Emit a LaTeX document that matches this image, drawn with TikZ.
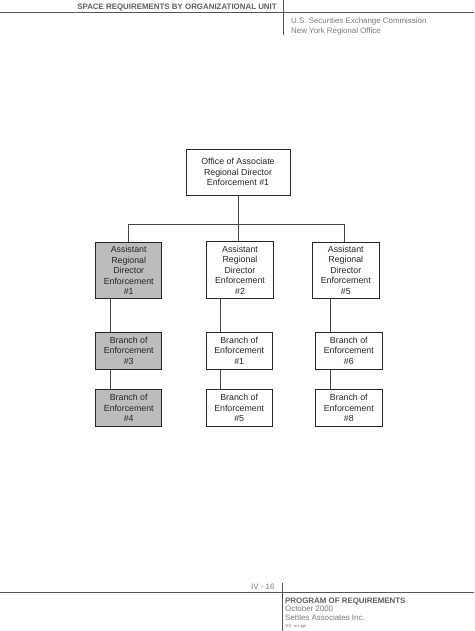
\documentclass[tikz,border=0pt]{standalone}
\usepackage{fontspec}
\setmainfont{Liberation Sans}
\definecolor{boxgray}{RGB}{188,188,188}
\definecolor{rulegray}{RGB}{85,85,85}
\definecolor{headgray}{RGB}{95,95,95}
\definecolor{lightgray}{RGB}{120,120,120}
\definecolor{linkgray}{RGB}{70,70,70}
\begin{document}
\begin{tikzpicture}[x=1pt,y=-1pt,
  orgbox/.style={draw=black!85, line width=0.9pt, fill=white, align=center,
    font=\fontsize{8.8}{10.5}\selectfont, text=black!85, inner sep=0pt},
  shaded/.style={orgbox, fill=boxgray},
  link/.style={draw=linkgray, line width=0.8pt},
  rulel/.style={draw=rulegray, line width=0.8pt},
  headtxt/.style={inner sep=0pt, anchor=base west, text=lightgray, font=\fontsize{7.9}{10}\selectfont},
  boldtxt/.style={inner sep=0pt, text=headgray, font=\fontsize{7.9}{10}\selectfont\bfseries}]
\useasboundingbox (0,0) rectangle (474,631);

% header
\node[boldtxt, anchor=base] (htitle) at (177,9.8) {SPACE REQUIREMENTS BY ORGANIZATIONAL UNIT};
\coordinate (hl0) at (0,12.5);
\coordinate (hl1) at (474,12.5);
\coordinate (hv0) at (283.5,0);
\coordinate (hv1) at (283.5,35);
\draw[rulel] (hl0) -- (hl1);
\draw[rulel] (hv0) -- (hv1);
\node[headtxt] (hsec) at (291,23.5) {U.S. Securities Exchange Commission};
\node[headtxt] (hny) at (291,33.5) {New York Regional Office};

% boxes
\node[orgbox, minimum width=104pt, minimum height=45.7pt] (top) at (238,172.2)
  {Office of Associate\\Regional Director\\Enforcement \#1};

\node[shaded, minimum width=66pt, minimum height=56.6pt] (a1) at (128.7,270.5)
  {Assistant\\Regional\\Director\\Enforcement\\\#1};
\node[orgbox, minimum width=66.6pt, minimum height=56.6pt] (a2) at (240,270)
  {Assistant\\Regional\\Director\\Enforcement\\\#2};
\node[orgbox, minimum width=66.3pt, minimum height=56.2pt] (a3) at (345.8,270.3)
  {Assistant\\Regional\\Director\\Enforcement\\\#5};

\node[shaded, minimum width=66pt, minimum height=36.7pt] (b3) at (128.7,350.7)
  {Branch of\\Enforcement\\\#3};
\node[orgbox, minimum width=66.3pt, minimum height=36.7pt] (b1) at (239.2,350.7)
  {Branch of\\Enforcement\\\#1};
\node[orgbox, minimum width=66.3pt, minimum height=36.7pt] (b6) at (348.8,350.7)
  {Branch of\\Enforcement\\\#6};

\node[shaded, minimum width=66pt, minimum height=37.4pt] (b4) at (128.7,408)
  {Branch of\\Enforcement\\\#4};
\node[orgbox, minimum width=66.3pt, minimum height=37.4pt] (b5) at (239.2,408)
  {Branch of\\Enforcement\\\#5};
\node[orgbox, minimum width=66.3pt, minimum height=37.4pt] (b8) at (348.8,408)
  {Branch of\\Enforcement\\\#8};

% connectors
\coordinate (jl) at (128.3,224);
\coordinate (jr) at (344.3,224);
\coordinate (jm) at (238.3,224);
\coordinate (l1) at (110.5,0);
\coordinate (l2) at (220.8,0);
\coordinate (l3) at (330.5,0);
\begin{scope}[on background layer/.style={}]
\draw[link] (jl) -- (jr);
\draw[link] (top.south -| jm) -- (jm |- a2.north);
\draw[link] (jl) -- (jl |- a1.north);
\draw[link] (jr) -- (jr |- a3.north);
\draw[link] (l1 |- a1.south) -- (l1 |- b3.north);
\draw[link] (l1 |- b3.south) -- (l1 |- b4.north);
\draw[link] (l2 |- a2.south) -- (l2 |- b1.north);
\draw[link] (l2 |- b1.south) -- (l2 |- b5.north);
\draw[link] (l3 |- a3.south) -- (l3 |- b6.north);
\draw[link] (l3 |- b6.south) -- (l3 |- b8.north);
\end{scope}

% footer
\coordinate (fl0) at (0,592.7);
\coordinate (fl1) at (474,592.7);
\coordinate (fv0) at (282,583);
\coordinate (fv1) at (282,631);
\draw[rulel] (fl0) -- (fl1);
\draw[rulel] (fv0) -- (fv1);
\node[headtxt] (fpage) at (251,589.5) {IV - 16};
\node[boldtxt, anchor=base west] (fprog) at (285,603) {PROGRAM OF REQUIREMENTS};
\node[headtxt] (foct) at (285,611.6) {October 2000};
\node[headtxt] (fsett) at (285,620.2) {Settles Associates Inc.};
\node[headtxt, font=\fontsize{4}{5}\selectfont] (ffile) at (285,627.3) {301\ \ ors.ppt};
\end{tikzpicture}
\end{document}
